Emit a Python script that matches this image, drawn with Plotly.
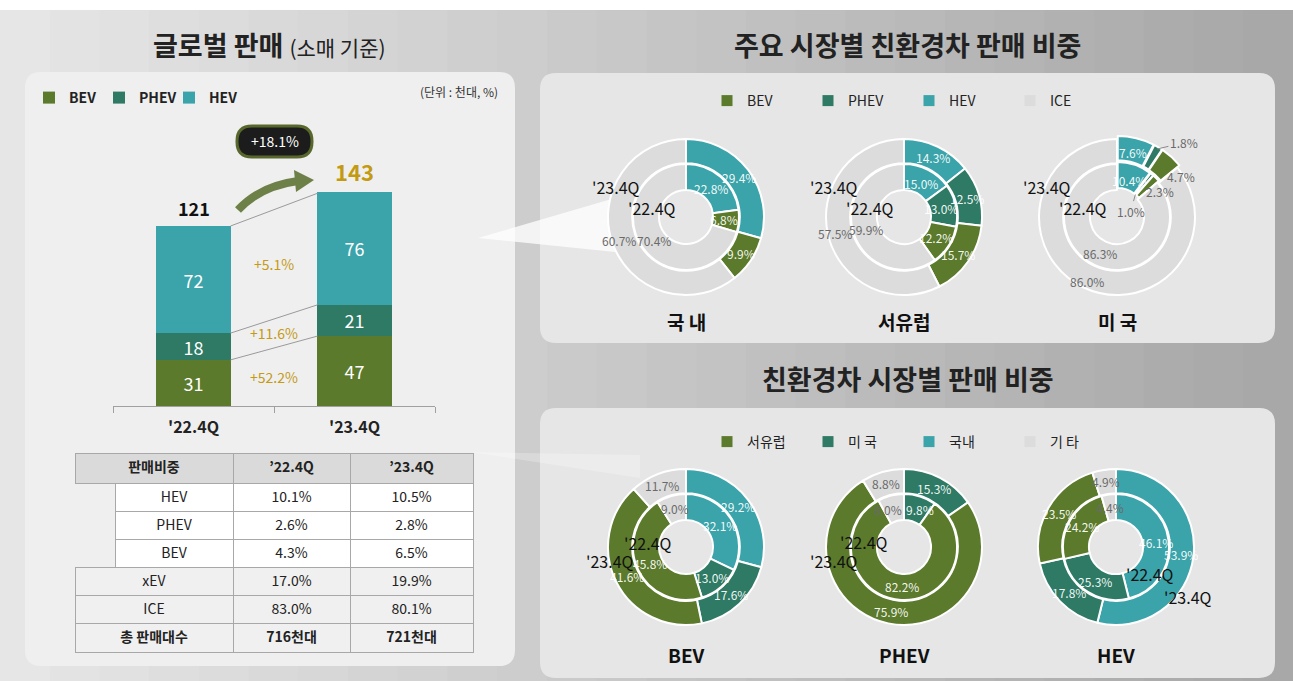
import math
import plotly.graph_objects as go

W, H = 1293, 681
FONT = "Noto Sans CJK KR"


def px(x):
    return x / W


def py(y):
    return 1 - y / H


# ---------------- data ----------------
quarters = ["'22.4Q", "'23.4Q"]
bev_sales = [31, 47]
phev_sales = [18, 21]
hev_sales = [72, 76]
total_sales = [121, 143]
segment_growth = ["+52.2%", "+11.6%", "+5.1%"]
total_growth = "+18.1%"

table_header = ["판매비중", "’22.4Q", "’23.4Q"]
sub_rows = ["HEV", "PHEV", "BEV"]
sub_22 = ["10.1%", "2.6%", "4.3%"]
sub_23 = ["10.5%", "2.8%", "6.5%"]
main_rows = ["xEV", "ICE"]
main_22 = ["17.0%", "83.0%"]
main_23 = ["19.9%", "80.1%"]
total_row = ["총\u00a0판매대수", "716천대", "721천대"]

# share of eco cars in major markets (slice order clockwise from 12 o'clock)
market_labels = ["HEV", "PHEV", "BEV", "ICE"]
market_names = ["국 내", "서유럽", "미 국"]
market_22 = [[22.8, 0, 6.8, 70.4], [15.0, 13.0, 12.2, 59.9], [10.4, 1.0, 2.3, 86.3]]
market_23 = [[29.4, 0, 9.9, 60.7], [14.3, 12.5, 15.7, 57.5], [7.6, 1.8, 4.7, 86.0]]
legend_top = ["BEV", "PHEV", "HEV", "ICE"]

# share of markets per powertrain
region_labels = ["국내", "미국", "서유럽", "기타"]
power_names = ["BEV", "PHEV", "HEV"]
power_22 = [[32.1, 13.0, 45.8, 9.0], [0, 9.8, 82.2, 8.0], [46.1, 25.3, 24.2, 4.4]]
power_23 = [[29.2, 17.6, 41.6, 11.7], [0, 15.3, 75.9, 8.8], [53.9, 17.8, 23.5, 4.9]]
legend_bottom = ["서유럽", "미 국", "국내", "기 타"]

# ---------------- style ----------------
C_BEV = "#5b7a2b"
C_PHEV = "#2e7a64"
C_HEV = "#3aa4aa"
C_ICE = "#dcdcdc"
PANEL = "#efefef"
GREY_TXT = "#6a6a6a"
WHITE_TXT = "rgba(255,255,255,0.95)"
top_colors = {"HEV": C_HEV, "PHEV": C_PHEV, "BEV": C_BEV, "ICE": C_ICE}
bot_colors = {"국내": C_HEV, "미국": C_PHEV, "서유럽": C_BEV, "기타": C_ICE}
legend_top_colors = [C_BEV, C_PHEV, C_HEV, C_ICE]
legend_bot_colors = [C_BEV, C_PHEV, C_HEV, C_ICE]

fig = go.Figure()

# ---------------- background ----------------
shapes = []
n_strip = 26
for i in range(n_strip):
    t = i / (n_strip - 1)
    c0, c1 = (230, 230, 230), (168, 168, 168)
    col = tuple(int(c0[k] + (c1[k] - c0[k]) * t) for k in range(3))
    x0 = W * i / n_strip
    x1 = W * (i + 1) / n_strip + 1
    shapes.append(dict(type="rect", xref="paper", yref="paper", x0=px(x0), x1=px(x1),
                       y0=0, y1=1, fillcolor="rgb(%d,%d,%d)" % col, line_width=0, layer="below"))
shapes.append(dict(type="rect", xref="paper", yref="paper", x0=0, x1=1, y0=py(10), y1=1,
                   fillcolor="white", line_width=0, layer="below"))


def rrect(x0, y0, x1, y1, r):
    return (f"M {px(x0 + r)},{py(y0)} L {px(x1 - r)},{py(y0)} Q {px(x1)},{py(y0)} {px(x1)},{py(y0 + r)} "
            f"L {px(x1)},{py(y1 - r)} Q {px(x1)},{py(y1)} {px(x1 - r)},{py(y1)} "
            f"L {px(x0 + r)},{py(y1)} Q {px(x0)},{py(y1)} {px(x0)},{py(y1 - r)} "
            f"L {px(x0)},{py(y0 + r)} Q {px(x0)},{py(y0)} {px(x0 + r)},{py(y0)} Z")


for (x0, y0, x1, y1, col) in [(25, 72, 515, 666, PANEL),
                              (540, 73, 1275, 343, "#e6e6e6"),
                              (540, 408, 1275, 678, "#e6e6e6")]:
    shapes.append(dict(type="path", xref="paper", yref="paper", path=rrect(x0, y0, x1, y1, 16),
                       fillcolor=col, line_width=0, layer="below"))

# light beams
beam = f"M {px(478)},{py(238)} L {px(615)},{py(198)} L {px(615)},{py(252)} Z"
shapes.append(dict(type="path", xref="paper", yref="paper", path=beam,
                   fillcolor="rgba(255,255,255,0.75)", line_width=0, layer="below"))
beam2 = f"M {px(470)},{py(452)} L {px(640)},{py(455)} L {px(640)},{py(478)} Z"
shapes.append(dict(type="path", xref="paper", yref="paper", path=beam2,
                   fillcolor="rgba(255,255,255,0.25)", line_width=0, layer="below"))

# ---------------- stacked bars ----------------
bar_w = 0.46
for name, vals, col in [("BEV", bev_sales, C_BEV), ("PHEV", phev_sales, C_PHEV), ("HEV", hev_sales, C_HEV)]:
    fig.add_trace(go.Bar(x=quarters, y=vals, name=name, width=bar_w,
                         marker=dict(color=col, line_width=0),
                         text=vals, textposition="inside", insidetextanchor="middle",
                         constraintext="none", textangle=0,
                         textfont=dict(color="white", size=18, family=FONT),
                         legend="legend", hoverinfo="x+y+name"))

# connector lines between the bars (at stack boundaries)
cum22 = [bev_sales[0], bev_sales[0] + phev_sales[0], total_sales[0]]
cum23 = [bev_sales[1], bev_sales[1] + phev_sales[1], total_sales[1]]
for a, b in zip(cum22, cum23):
    shapes.append(dict(type="line", xref="x", yref="y", x0=0 + bar_w / 2, x1=1 - bar_w / 2,
                       y0=a, y1=b, line=dict(color="#9a9a9a", width=1), layer="above"))

annotations = []
# totals
annotations.append(dict(x=quarters[0], y=total_sales[0], xref="x", yref="y", yanchor="bottom",
                        yshift=3, showarrow=False, text=f"<b>{total_sales[0]}</b>",
                        font=dict(size=18, color="#111", family=FONT)))
annotations.append(dict(x=quarters[1], y=total_sales[1], xref="x", yref="y", yanchor="bottom",
                        yshift=4, showarrow=False, text=f"<b>{total_sales[1]}</b>",
                        font=dict(size=22, color="#c39b12", family=FONT)))
# segment growth labels
segs22 = [bev_sales[0], phev_sales[0], hev_sales[0]]
segs23 = [bev_sales[1], phev_sales[1], hev_sales[1]]
base22 = base23 = 0
for g, s22, s23 in zip(segment_growth, segs22, segs23):
    ymid = ((base22 + s22 / 2) + (base23 + s23 / 2)) / 2
    base22 += s22
    base23 += s23
    annotations.append(dict(x=0.5, y=ymid, xref="x", yref="y", showarrow=False, text=g,
                            font=dict(size=14, color="#c49a17", family=FONT)))

# growth pill (rounded) and arrow
shapes.append(dict(type="path", xref="paper", yref="paper", path=rrect(237, 126, 312, 157, 15),
                   fillcolor="#1c1c1c", line=dict(color="#58682c", width=3), layer="above"))
annotations.append(dict(x=px(274.5), y=py(141.5), xref="paper", yref="paper", showarrow=False,
                        text=total_growth, font=dict(size=14, color="white", family=FONT)))
arrow_path = f"M {px(238)},{py(210)} Q {px(260)},{py(186)} {px(298)},{py(181)}"
shapes.append(dict(type="path", xref="paper", yref="paper", path=arrow_path,
                   line=dict(color="#6d8048", width=8), layer="above"))
head = f"M {px(294)},{py(170)} L {px(314)},{py(180)} L {px(296)},{py(192)} Z"
shapes.append(dict(type="path", xref="paper", yref="paper", path=head,
                   fillcolor="#6d8048", line_width=0, layer="above"))

# ---------------- legends (dummy traces for the donut legends) ----------------
for name, col in zip(legend_top, legend_top_colors):
    fig.add_trace(go.Scatter(x=[None], y=[None], mode="markers", name=name,
                             marker=dict(symbol="square", size=11, color=col),
                             legend="legend2", hoverinfo="skip"))
for name, col in zip(legend_bottom, legend_bot_colors):
    fig.add_trace(go.Scatter(x=[None], y=[None], mode="markers", name=name,
                             marker=dict(symbol="square", size=11, color=col),
                             legend="legend3", hoverinfo="skip"))

# ---------------- donuts ----------------
R_OUT, HOLE_OUT = 78, 0.69
R_IN, HOLE_IN = 53, 0.51
top_centers = [(686, 217), (904, 217), (1117, 217)]
bot_centers = [(686, 547), (904, 547), (1116, 547)]

# label placement overrides: (radius px, angle deg, leader-line radius px or None, text colour or None)
label_override = {
    ("top", 2, "out", "PHEV"): (100, 42, 79, GREY_TXT),
    ("top", 2, "out", "BEV"): (76, 58, None, GREY_TXT),
    ("top", 2, "in", "BEV"): (50, 60, None, GREY_TXT),
    ("top", 2, "in", "PHEV"): (15, 67, 29, GREY_TXT),
    ("bot", 1, "in", "기타"): (41, 337, None, None),
    ("bot", 1, "in", "미국"): (41, 23, None, None),
}
pulls_small = {("top", 2)}


def add_donut(key, idx, cx, cy, labels, v_in, v_out, colors, grey_label):
    for ring, vals, r, hole in [("out", v_out, R_OUT, HOLE_OUT), ("in", v_in, R_IN, HOLE_IN)]:
        labs = [l for l, v in zip(labels, vals) if v > 0]
        vv = [v for v in vals if v > 0]
        pull = [0.04 if ((key, idx) in pulls_small and l != grey_label) else 0 for l in labs]
        maxpull = max(pull)
        half = r * (1 + maxpull)
        fig.add_trace(go.Pie(labels=labs, values=vv, hole=hole, sort=False, direction="clockwise",
                             rotation=0, pull=pull,
                             marker=dict(colors=[colors[l] for l in labs], line=dict(color="white", width=2)),
                             textinfo="none", showlegend=False, hoverinfo="label+percent",
                             domain=dict(x=[px(cx - half), px(cx + half)], y=[py(cy + half), py(cy - half)])))
        total = sum(vv)
        cum = 0
        rmid = r * (1 + hole) / 2
        for l, v in zip(labs, vv):
            mid = (cum + v / 2) / total
            cum += v
            th = 2 * math.pi * mid
            ov = label_override.get((key, idx, ring, l))
            color = GREY_TXT if l == grey_label else WHITE_TXT
            if ov:
                rr, ang, ar, oc = ov
                if oc:
                    color = oc
                tx = cx + rr * math.sin(math.radians(ang))
                ty = cy - rr * math.cos(math.radians(ang))
                if ar:
                    axp = cx + ar * math.sin(th)
                    ayp = cy - ar * math.cos(th)
                    annotations.append(dict(x=px(axp), y=py(ayp), xref="paper", yref="paper",
                                            ax=tx - axp, ay=ty - ayp, showarrow=True, arrowhead=0,
                                            arrowwidth=1, arrowcolor="#8a8a8a", standoff=0,
                                            xanchor="center", yanchor="middle",
                                            text=f"{v:.1f}%", font=dict(size=12, color=color, family=FONT)))
                    continue
            else:
                rl = rmid + (5 if (key == "top" and ring == "out" and l == grey_label) else 0)
                if ring == "in" and key == "top" and l != grey_label:
                    rl -= 2
                tx = cx + rl * math.sin(th)
                ty = cy - rl * math.cos(th)
            annotations.append(dict(x=px(tx), y=py(ty), xref="paper", yref="paper", showarrow=False,
                                    text=f"{v:.1f}%", font=dict(size=12, color=color, family=FONT)))


for i, (cx, cy) in enumerate(top_centers):
    add_donut("top", i, cx, cy, market_labels, market_22[i], market_23[i], top_colors, "ICE")
    annotations.append(dict(x=px(cx - 70), y=py(cy - 30), xref="paper", yref="paper", showarrow=False,
                            text="'23.4Q", font=dict(size=16, color="#111", family=FONT)))
    annotations.append(dict(x=px(cx - 34), y=py(cy - 9), xref="paper", yref="paper", showarrow=False,
                            text="'22.4Q", font=dict(size=16, color="#111", family=FONT)))
    annotations.append(dict(x=px(cx), y=py(321), xref="paper", yref="paper", showarrow=False,
                            text=f"<b>{market_names[i]}</b>", font=dict(size=19, color="#111", family=FONT)))

q_offsets = [((-38, -4), (-76, 14)), ((-40, -5), (-70, 14)), ((34, 27), (72, 50))]
for i, (cx, cy) in enumerate(bot_centers):
    add_donut("bot", i, cx, cy, region_labels, power_22[i], power_23[i], bot_colors, "기타")
    (a22, a23) = q_offsets[i]
    annotations.append(dict(x=px(cx + a22[0]), y=py(cy + a22[1]), xref="paper", yref="paper", showarrow=False,
                            text="'22.4Q", font=dict(size=16, color="#111", family=FONT)))
    annotations.append(dict(x=px(cx + a23[0]), y=py(cy + a23[1]), xref="paper", yref="paper", showarrow=False,
                            text="'23.4Q", font=dict(size=16, color="#111", family=FONT)))
    annotations.append(dict(x=px(cx), y=py(654), xref="paper", yref="paper", showarrow=False,
                            text=f"<b>{power_names[i]}</b>", font=dict(size=19, color="#111", family=FONT)))

# ---------------- table ----------------
LINE = "#a8a8a8"
ROW_FILL = "#f0f0f0"
TF = dict(size=14, color="#222", family=FONT)
TFB = dict(size=14, color="#222", family=FONT, weight="bold")
n_sub = len(sub_rows)
n_main = len(main_rows)
col0 = [""] * n_sub + main_rows
col1 = [""] * n_sub + main_22
col2 = [""] * n_sub + main_23
fill0 = [PANEL] * n_sub + [ROW_FILL] * n_main
fill12 = ["white"] * n_sub + [ROW_FILL] * n_main
line0 = [PANEL] * n_sub + [LINE] * n_main
line12 = [LINE] * (n_sub + n_main)
# main table (header + rows, indent area of sub-rows left blank)
fig.add_trace(go.Table(
    domain=dict(x=[px(75), px(473)], y=[py(627), py(453)]),
    columnwidth=[158, 117, 123],
    header=dict(values=table_header, height=30, fill_color="#dadada",
                line=dict(color=LINE, width=1), align="center", font=TFB),
    cells=dict(values=[col0, col1, col2], height=28,
               fill=dict(color=[fill0, fill12, fill12]),
               line=dict(color=[line0, line12, line12], width=1), align="center", font=TF)))
# indented sub-rows (HEV / PHEV / BEV)
fig.add_trace(go.Table(
    domain=dict(x=[px(115), px(473)], y=[py(571), py(483)]),
    columnwidth=[118, 117, 123],
    header=dict(values=[sub_rows[0], sub_22[0], sub_23[0]], height=28, fill_color="white",
                line=dict(color=LINE, width=1), align="center", font=TF),
    cells=dict(values=[sub_rows[1:], sub_22[1:], sub_23[1:]], height=28, fill_color="white",
               line=dict(color=LINE, width=1), align="center", font=TF)))
# total row (bold)
fig.add_trace(go.Table(
    domain=dict(x=[px(75), px(473)], y=[0, py(623)]),
    columnwidth=[158, 117, 123],
    header=dict(values=total_row, height=29, fill_color=ROW_FILL,
                line=dict(color=LINE, width=1), align="center", font=TFB),
    cells=dict(values=[[""], [""], [""]], height=26, fill_color="rgba(0,0,0,0)",
               line=dict(color="rgba(0,0,0,0)", width=0))))

# ---------------- titles ----------------
annotations.append(dict(x=px(269), y=py(45), xref="paper", yref="paper", showarrow=False,
                        text="<b>글로벌 판매</b> <span style='font-size:21px'>(소매 기준)</span>",
                        font=dict(size=27, color="#222", family=FONT)))
annotations.append(dict(x=px(908), y=py(45), xref="paper", yref="paper", showarrow=False,
                        text="<b>주요 시장별 친환경차 판매 비중</b>",
                        font=dict(size=27, color="#222", family=FONT)))
annotations.append(dict(x=px(908), y=py(378), xref="paper", yref="paper", showarrow=False,
                        text="<b>친환경차 시장별 판매 비중</b>",
                        font=dict(size=27, color="#222", family=FONT)))
annotations.append(dict(x=px(500), y=py(91), xref="paper", yref="paper", showarrow=False, xanchor="right",
                        text="(단위 : 천대, %)", font=dict(size=12, color="#333", family=FONT)))

for a in annotations:
    a.setdefault("xanchor", "center")
    a.setdefault("yanchor", "middle")

fig.update_layout(
    width=W, height=H, margin=dict(l=0, r=0, t=0, b=0),
    paper_bgcolor="#c0c0c0", plot_bgcolor="rgba(0,0,0,0)",
    barmode="stack", bargap=0.54,
    font=dict(family=FONT, color="#222"),
    xaxis=dict(domain=[px(113), px(435)], range=[-0.5, 1.5], showgrid=False, zeroline=False,
               showline=True, linecolor="#a0a0a0", linewidth=1, ticks="outside", tickson="boundaries",
               ticklen=6, tickcolor="#a0a0a0", ticklabelstandoff=7,
               tickfont=dict(size=16, color="#222", family=FONT, weight="bold"),
               fixedrange=True),
    yaxis=dict(domain=[py(406), py(168)], range=[0, 160], visible=False, fixedrange=True),
    legend=dict(orientation="h", x=px(29), y=py(98), xanchor="left", yanchor="middle", traceorder="normal",
                bgcolor="rgba(0,0,0,0)", font=dict(size=14, color="#222", family=FONT, weight="bold"),
                entrywidth=25, itemclick=False, itemdoubleclick=False),
    legend2=dict(orientation="h", x=px(707), y=py(101), xanchor="left", yanchor="middle",
                 bgcolor="rgba(0,0,0,0)", font=dict(size=14, color="#222", family=FONT),
                 entrywidth=56, itemclick=False, itemdoubleclick=False),
    legend3=dict(orientation="h", x=px(707), y=py(442), xanchor="left", yanchor="middle",
                 bgcolor="rgba(0,0,0,0)", font=dict(size=14, color="#222", family=FONT),
                 entrywidth=56, itemclick=False, itemdoubleclick=False),
    shapes=shapes, annotations=annotations,
)

fig.write_html("out.html", config={"displayModeBar": False},
               post_script="document.body.style.margin='0';document.body.style.overflow='hidden';")
